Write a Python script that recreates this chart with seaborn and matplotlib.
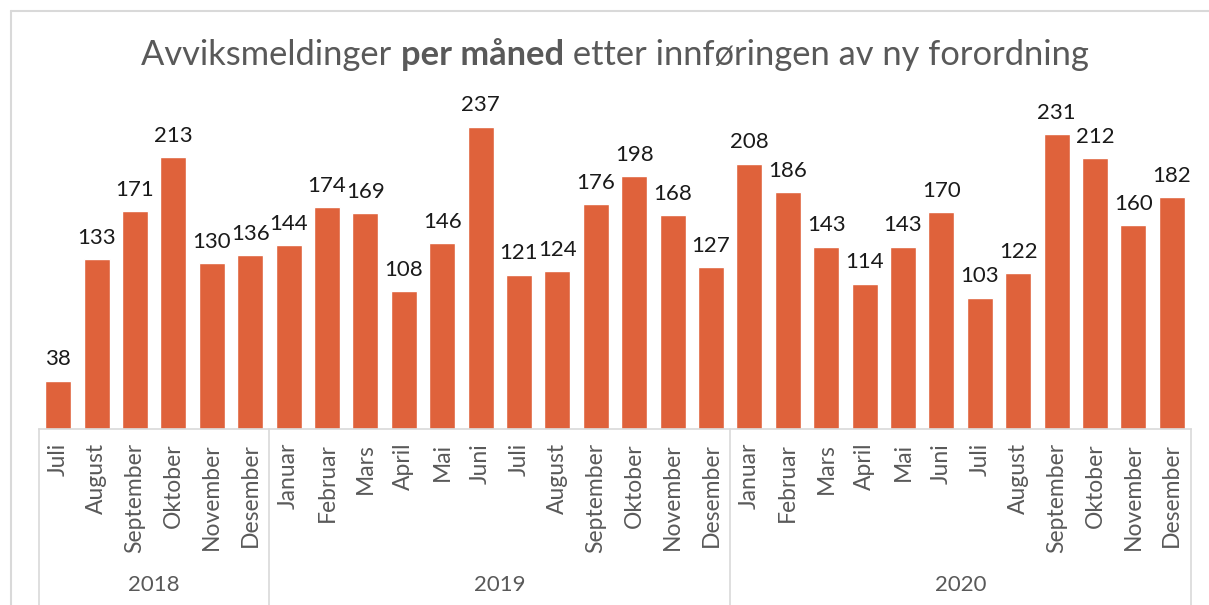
import numpy as np
import pandas as pd
import matplotlib
matplotlib.use("Agg")
import matplotlib.pyplot as plt
import matplotlib.transforms as mtransforms
from matplotlib.lines import Line2D
import seaborn as sns

# --- data ---
years = ["2018", "2019", "2020"]
months_2018 = ["Juli", "August", "September", "Oktober", "November", "Desember"]
months_full = ["Januar", "Februar", "Mars", "April", "Mai", "Juni",
               "Juli", "August", "September", "Oktober", "November", "Desember"]
values_2018 = [38, 133, 171, 213, 130, 136]
values_2019 = [144, 174, 169, 108, 146, 237, 121, 124, 176, 198, 168, 127]
values_2020 = [208, 186, 143, 114, 143, 170, 103, 122, 231, 212, 160, 182]

BAR = "#DF623B"
GRAY = "#595959"
LINE = "#D9D9D9"
FONT = "Lato"

sns.set_theme(style="white")
plt.rcParams["font.family"] = [FONT, "DejaVu Sans"]

months = months_2018 + months_full + months_full
values = values_2018 + values_2019 + values_2020
year_col = ["2018"] * 6 + ["2019"] * 12 + ["2020"] * 12
df = pd.DataFrame({"month": months, "year": year_col, "value": values})
df["key"] = df["year"] + "-" + df["month"]

W, H = 1209, 605
fig = plt.figure(figsize=(W / 100, H / 100), dpi=100)
ax = fig.add_axes([39 / W, (H - 429) / H, (1191 - 39) / W, (429 - 110) / H])

sns.barplot(data=df, x="key", y="value", color=BAR, width=0.68,
            saturation=1, ax=ax, order=df["key"].tolist())
ax.bar_label(ax.containers[0], padding=8, fontsize=16, color="#1a1a1a")

ax.set_ylim(0, 250)
ax.set_xlim(-0.5, len(df) - 0.5)
ax.set_ylabel("")
ax.set_xlabel("")
ax.set_yticks([])
for s in ["top", "right", "left"]:
    ax.spines[s].set_visible(False)
ax.spines["bottom"].set_color(LINE)
ax.spines["bottom"].set_linewidth(1.2)

ax.set_xticks(range(len(df)))
ax.set_xticklabels(df["month"], rotation=90, fontsize=16.5, color=GRAY, va="top", ha="center")
ax.tick_params(axis="x", length=0, pad=10)

# group separators and year labels
trans = mtransforms.blended_transform_factory(ax.transData, fig.transFigure)
y0 = (H - 429) / H
for xs in [-0.5, 5.5, 17.5, 29.5]:
    fig.add_artist(Line2D([xs, xs], [0, y0], transform=trans, color=LINE, lw=1.2))
starts = [0, 6, 18]
ends = [5, 17, 29]
for yr, a, b in zip(years, starts, ends):
    fig.text((a + b) / 2, (H - 585) / H, yr, transform=trans, ha="center", va="center",
             fontsize=16, color=GRAY)

# chart frame (left and top edges visible)
fig.add_artist(Line2D([10.5 / W, 10.5 / W], [0, (H - 11) / H], transform=fig.transFigure, color=LINE, lw=1.5))
fig.add_artist(Line2D([10.5 / W, 1], [(H - 11) / H, (H - 11) / H], transform=fig.transFigure, color=LINE, lw=1.5))

# title with a bold middle part
parts = [("Avviksmeldinger ", "normal"), ("per måned", "bold"), (" etter innføringen av ny forordning", "normal")]
texts = []
for txt, wt in parts:
    texts.append(fig.text(0, (H - 55) / H, txt, fontsize=24.8, fontweight=wt, color=GRAY, va="center", ha="left"))
fig.canvas.draw()
r = fig.canvas.get_renderer()
widths = [t.get_window_extent(r).width for t in texts]
x = (615 - sum(widths) / 2)
for t, w in zip(texts, widths):
    t.set_x(x / W)
    x += w

fig.savefig("out.png", dpi=100)
